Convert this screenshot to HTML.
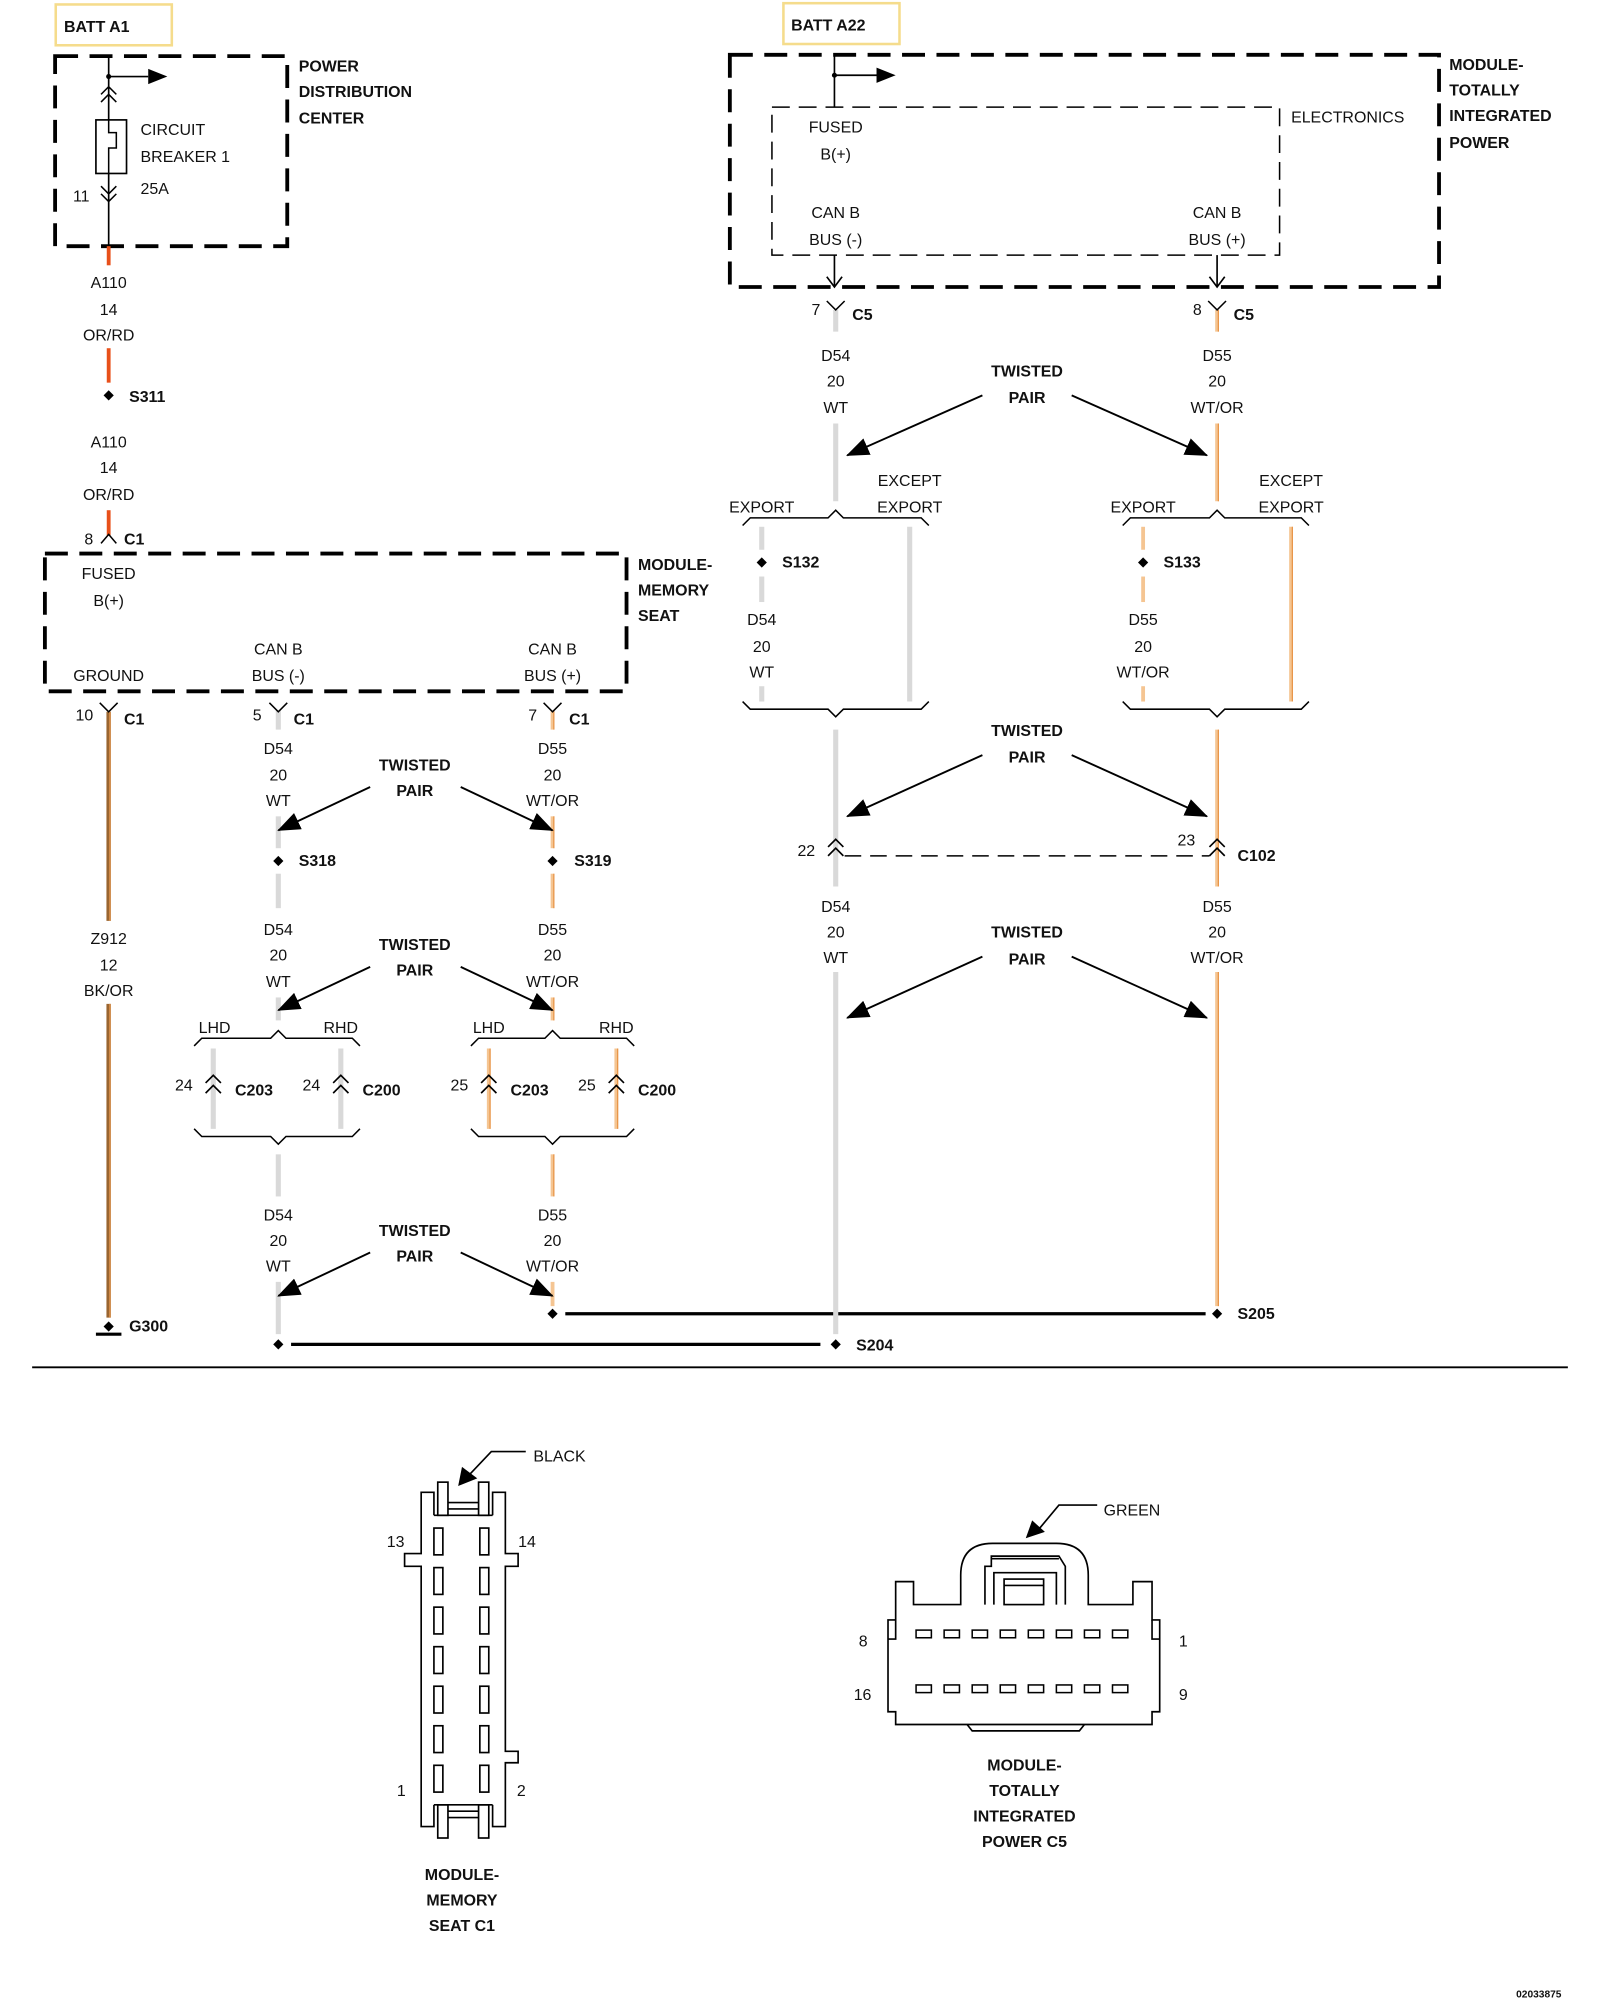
<!DOCTYPE html>
<html><head><meta charset="utf-8">
<style>
html,body{margin:0;padding:0;background:#fff;}
svg{display:block;}
text{font-family:"Liberation Sans",Arial,sans-serif;font-size:12.5px;fill:#111;}
.b{font-weight:bold;}
.c{text-anchor:middle;}
.e{text-anchor:end;}
</style></head>
<body>
<svg width="1600" height="2000" viewBox="0 0 1254 1568" xmlns="http://www.w3.org/2000/svg">
<defs>
<marker id="ah2" markerWidth="18" markerHeight="14" refX="17" refY="7" orient="auto" markerUnits="userSpaceOnUse" viewBox="0 0 18 14">
<path d="M0,0 L18,7 L0,14 z" fill="#000"/></marker>
</defs>
<rect width="1254" height="1568" fill="#fff"/>

<!-- ============ LEFT: PDC ============ -->
<rect x="43.5" y="3.5" width="91" height="32" fill="none" stroke="#f5dc8c" stroke-width="2"/>
<text x="50" y="25" class="b">BATT A1</text>
<rect x="43" y="44" width="182" height="149" fill="none" stroke="#000" stroke-width="3" stroke-dasharray="18,9"/>
<line x1="85" y1="44" x2="85" y2="193" stroke="#000" stroke-width="1.3"/>
<circle cx="85" cy="60" r="2" fill="#000"/>
<line x1="85" y1="60" x2="116" y2="60" stroke="#000" stroke-width="1.3"/>
<path d="M116,54 L131,60 L116,66 z" fill="#000"/>
<path d="M79,74 L85,68 L91,74 M79,80 L85,74 L91,80" fill="none" stroke="#000" stroke-width="1.2"/>
<rect x="75" y="94" width="24" height="42" fill="#fff" stroke="#000" stroke-width="1.3"/>
<path d="M85,94 L85,104 L91,104 L91,116 L85,116 L85,136" fill="none" stroke="#000" stroke-width="1.2"/>
<path d="M79,146 L85,152 L91,146 M79,152 L85,158 L91,152" fill="none" stroke="#000" stroke-width="1.2"/>
<text x="57" y="158">11</text>
<text x="110" y="106">CIRCUIT</text>
<text x="110" y="127">BREAKER 1</text>
<text x="110" y="152">25A</text>
<text x="234" y="56" class="b">POWER</text>
<text x="234" y="76" class="b">DISTRIBUTION</text>
<text x="234" y="97" class="b">CENTER</text>

<line x1="85" y1="193" x2="85" y2="208" stroke="#e8501a" stroke-width="3"/>
<text x="85" y="226" class="c">A110</text>
<text x="85" y="247" class="c">14</text>
<text x="85" y="267" class="c">OR/RD</text>
<line x1="85" y1="273" x2="85" y2="300" stroke="#e8501a" stroke-width="3"/>
<path d="M85,306 L89,310 L85,314 L81,310 z" fill="#000"/>
<text x="101" y="315" class="b">S311</text>
<text x="85" y="351" class="c">A110</text>
<text x="85" y="371" class="c">14</text>
<text x="85" y="392" class="c">OR/RD</text>
<line x1="85" y1="400" x2="85" y2="420" stroke="#e8501a" stroke-width="3"/>
<path d="M79,426 L85,419 L91,426" fill="none" stroke="#000" stroke-width="1.2"/>
<text x="66" y="427">8</text>
<text x="97" y="427" class="b">C1</text>

<!-- ============ MEMORY SEAT ============ -->
<rect x="35" y="434" width="456" height="108" fill="none" stroke="#000" stroke-width="3" stroke-dasharray="18,9"/>
<text x="85" y="454" class="c">FUSED</text>
<text x="85" y="475" class="c">B(+)</text>
<text x="85" y="534" class="c">GROUND</text>
<text x="218" y="513" class="c">CAN B</text>
<text x="218" y="534" class="c">BUS (-)</text>
<text x="433" y="513" class="c">CAN B</text>
<text x="433" y="534" class="c">BUS (+)</text>
<text x="500" y="447" class="b">MODULE-</text>
<text x="500" y="467" class="b">MEMORY</text>
<text x="500" y="487" class="b">SEAT</text>

<line x1="85" y1="558" x2="85" y2="722" stroke="#9a6530" stroke-width="3.5"/>
<line x1="86" y1="558" x2="86" y2="722" stroke="#e89a50" stroke-width="1"/>
<path d="M78,551 L85,558 L92,551" fill="none" stroke="#000" stroke-width="1.2"/>
<text x="59" y="565">10</text>
<text x="97" y="568" class="b">C1</text>
<text x="85" y="740" class="c">Z912</text>
<text x="85" y="761" class="c">12</text>
<text x="85" y="781" class="c">BK/OR</text>
<line x1="85" y1="787" x2="85" y2="1033" stroke="#9a6530" stroke-width="3.5"/>
<line x1="86" y1="787" x2="86" y2="1033" stroke="#e89a50" stroke-width="1"/>
<path d="M85,1036 L89,1040 L85,1044 L81,1040 z" fill="#000"/>
<line x1="75" y1="1046" x2="95" y2="1046" stroke="#000" stroke-width="2.5"/>
<text x="101" y="1044" class="b">G300</text>

<g stroke="#d9d9d9" stroke-width="4">
<line x1="218" y1="557" x2="218" y2="572"/>
<line x1="218" y1="640" x2="218" y2="665"/>
<line x1="218" y1="685" x2="218" y2="712"/>
<line x1="218" y1="782" x2="218" y2="800"/>
<line x1="167" y1="822" x2="167" y2="885"/>
<line x1="267" y1="822" x2="267" y2="885"/>
<line x1="218" y1="905" x2="218" y2="938"/>
<line x1="218" y1="1005" x2="218" y2="1046"/>
</g>
<path d="M211,551 L218,558 L225,551" fill="none" stroke="#000" stroke-width="1.2"/>
<text x="198" y="565">5</text>
<text x="230" y="568" class="b">C1</text>
<text x="218" y="591" class="c">D54</text>
<text x="218" y="612" class="c">20</text>
<text x="218" y="632" class="c">WT</text>
<path d="M218,671 L222,675 L218,679 L214,675 z" fill="#000"/>
<text x="234" y="679" class="b">S318</text>
<text x="218" y="733" class="c">D54</text>
<text x="218" y="753" class="c">20</text>
<text x="218" y="774" class="c">WT</text>
<text x="168" y="810" class="c">LHD</text>
<text x="267" y="810" class="c">RHD</text>
<path d="M152,820 L158,814 L212,814 L218,808 L224,814 L276,814 L282,820" fill="none" stroke="#000" stroke-width="1.2"/>
<path d="M161,849 L167,843 L173,849 M161,857 L167,851 L173,857" fill="none" stroke="#000" stroke-width="1.3"/>
<path d="M261,849 L267,843 L273,849 M261,857 L267,851 L273,857" fill="none" stroke="#000" stroke-width="1.3"/>
<text x="137" y="855">24</text>
<text x="184" y="859" class="b">C203</text>
<text x="237" y="855">24</text>
<text x="284" y="859" class="b">C200</text>
<path d="M152,885 L158,891 L212,891 L218,897 L224,891 L276,891 L282,885" fill="none" stroke="#000" stroke-width="1.2"/>
<text x="218" y="957" class="c">D54</text>
<text x="218" y="977" class="c">20</text>
<text x="218" y="997" class="c">WT</text>
<path d="M218,1050 L222,1054 L218,1058 L214,1054 z" fill="#000"/>
<line x1="228" y1="1054" x2="643" y2="1054" stroke="#000" stroke-width="2.5"/>

<g stroke="#f5c592" stroke-width="3">
<line x1="433" y1="557" x2="433" y2="572"/>
<line x1="433" y1="640" x2="433" y2="665"/>
<line x1="433" y1="685" x2="433" y2="712"/>
<line x1="433" y1="782" x2="433" y2="800"/>
<line x1="383" y1="822" x2="383" y2="885"/>
<line x1="483" y1="822" x2="483" y2="885"/>
<line x1="433" y1="905" x2="433" y2="938"/>
<line x1="433" y1="1005" x2="433" y2="1024"/>
</g>
<g stroke="#e8964a" stroke-width="1">
<line x1="434" y1="557" x2="434" y2="572"/>
<line x1="434" y1="640" x2="434" y2="665"/>
<line x1="434" y1="685" x2="434" y2="712"/>
<line x1="434" y1="782" x2="434" y2="800"/>
<line x1="384" y1="822" x2="384" y2="885"/>
<line x1="484" y1="822" x2="484" y2="885"/>
<line x1="434" y1="905" x2="434" y2="938"/>
</g>
<path d="M426,551 L433,558 L440,551" fill="none" stroke="#000" stroke-width="1.2"/>
<text x="414" y="565">7</text>
<text x="446" y="568" class="b">C1</text>
<text x="433" y="591" class="c">D55</text>
<text x="433" y="612" class="c">20</text>
<text x="433" y="632" class="c">WT/OR</text>
<path d="M433,671 L437,675 L433,679 L429,675 z" fill="#000"/>
<text x="450" y="679" class="b">S319</text>
<text x="433" y="733" class="c">D55</text>
<text x="433" y="753" class="c">20</text>
<text x="433" y="774" class="c">WT/OR</text>
<text x="383" y="810" class="c">LHD</text>
<text x="483" y="810" class="c">RHD</text>
<path d="M369,820 L375,814 L427,814 L433,808 L439,814 L491,814 L497,820" fill="none" stroke="#000" stroke-width="1.2"/>
<path d="M377,849 L383,843 L389,849 M377,857 L383,851 L389,857" fill="none" stroke="#000" stroke-width="1.3"/>
<path d="M477,849 L483,843 L489,849 M477,857 L483,851 L489,857" fill="none" stroke="#000" stroke-width="1.3"/>
<text x="353" y="855">25</text>
<text x="400" y="859" class="b">C203</text>
<text x="453" y="855">25</text>
<text x="500" y="859" class="b">C200</text>
<path d="M369,885 L375,891 L427,891 L433,897 L439,891 L491,891 L497,885" fill="none" stroke="#000" stroke-width="1.2"/>
<text x="433" y="957" class="c">D55</text>
<text x="433" y="977" class="c">20</text>
<text x="433" y="997" class="c">WT/OR</text>
<path d="M433,1026 L437,1030 L433,1034 L429,1030 z" fill="#000"/>
<line x1="443" y1="1030" x2="945" y2="1030" stroke="#000" stroke-width="2.5"/>

<g stroke="#000" stroke-width="1.5">
<line x1="290" y1="617" x2="218" y2="651" marker-end="url(#ah2)"/>
<line x1="361" y1="617" x2="433" y2="651" marker-end="url(#ah2)"/>
<line x1="290" y1="758" x2="218" y2="792" marker-end="url(#ah2)"/>
<line x1="361" y1="758" x2="433" y2="792" marker-end="url(#ah2)"/>
<line x1="290" y1="982" x2="218" y2="1016" marker-end="url(#ah2)"/>
<line x1="361" y1="982" x2="433" y2="1016" marker-end="url(#ah2)"/>
</g>
<text x="325" y="604" class="b c">TWISTED</text><text x="325" y="624" class="b c">PAIR</text>
<text x="325" y="745" class="b c">TWISTED</text><text x="325" y="765" class="b c">PAIR</text>
<text x="325" y="969" class="b c">TWISTED</text><text x="325" y="989" class="b c">PAIR</text>

<!-- ============ RIGHT: TIPM ============ -->
<rect x="614" y="2.5" width="91" height="32" fill="none" stroke="#f5dc8c" stroke-width="2"/>
<text x="620" y="24" class="b">BATT A22</text>
<rect x="572" y="43" width="556" height="182" fill="none" stroke="#000" stroke-width="3" stroke-dasharray="18,9"/>
<rect x="605" y="84" width="398" height="116" fill="none" stroke="#000" stroke-width="1.2" stroke-dasharray="14,7"/>
<line x1="654" y1="43" x2="654" y2="84" stroke="#000" stroke-width="1.3"/>
<circle cx="654" cy="59" r="2" fill="#000"/>
<line x1="654" y1="59" x2="688" y2="59" stroke="#000" stroke-width="1.3"/>
<path d="M687,53 L702,59 L687,65 z" fill="#000"/>
<text x="655" y="104" class="c">FUSED</text>
<text x="655" y="125" class="c">B(+)</text>
<text x="655" y="171" class="c">CAN B</text>
<text x="655" y="192" class="c">BUS (-)</text>
<text x="954" y="171" class="c">CAN B</text>
<text x="954" y="192" class="c">BUS (+)</text>
<text x="1012" y="96">ELECTRONICS</text>
<text x="1136" y="55" class="b">MODULE-</text>
<text x="1136" y="75" class="b">TOTALLY</text>
<text x="1136" y="95" class="b">INTEGRATED</text>
<text x="1136" y="116" class="b">POWER</text>
<line x1="654" y1="200" x2="654" y2="225" stroke="#000" stroke-width="1.3"/>
<path d="M648,217 L654,225 L660,217" fill="none" stroke="#000" stroke-width="1.3"/>
<line x1="954" y1="200" x2="954" y2="225" stroke="#000" stroke-width="1.3"/>
<path d="M948,217 L954,225 L960,217" fill="none" stroke="#000" stroke-width="1.3"/>

<g stroke="#d9d9d9" stroke-width="4">
<line x1="655" y1="243" x2="655" y2="260"/>
<line x1="655" y1="332" x2="655" y2="393"/>
<line x1="597" y1="413" x2="597" y2="431"/>
<line x1="597" y1="452" x2="597" y2="472"/>
<line x1="597" y1="538" x2="597" y2="550"/>
<line x1="713" y1="413" x2="713" y2="550"/>
<line x1="655" y1="572" x2="655" y2="695"/>
<line x1="655" y1="762" x2="655" y2="1046"/>
</g>
<path d="M648,236 L655,243 L662,236" fill="none" stroke="#000" stroke-width="1.2"/>
<text x="636" y="247">7</text>
<text x="668" y="251" class="b">C5</text>
<text x="655" y="283" class="c">D54</text>
<text x="655" y="303" class="c">20</text>
<text x="655" y="324" class="c">WT</text>
<path d="M582,412 L588,406 L649,406 L655,400 L661,406 L722,406 L728,412" fill="none" stroke="#000" stroke-width="1.2"/>
<text x="597" y="402" class="c">EXPORT</text>
<text x="713" y="381" class="c">EXCEPT</text>
<text x="713" y="402" class="c">EXPORT</text>
<path d="M597,437 L601,441 L597,445 L593,441 z" fill="#000"/>
<text x="613" y="445" class="b">S132</text>
<text x="597" y="490" class="c">D54</text>
<text x="597" y="511" class="c">20</text>
<text x="597" y="531" class="c">WT</text>
<path d="M582,550 L588,556 L649,556 L655,562 L661,556 L722,556 L728,550" fill="none" stroke="#000" stroke-width="1.2"/>
<path d="M649,664 L655,658 L661,664 M649,671 L655,665 L661,671" fill="none" stroke="#000" stroke-width="1.3"/>
<line x1="662" y1="671" x2="948" y2="671" stroke="#000" stroke-width="1.2" stroke-dasharray="13,7"/>
<text x="625" y="671">22</text>
<text x="655" y="715" class="c">D54</text>
<text x="655" y="735" class="c">20</text>
<text x="655" y="755" class="c">WT</text>
<path d="M655,1050 L659,1054 L655,1058 L651,1054 z" fill="#000"/>
<text x="671" y="1059" class="b">S204</text>

<g stroke="#f5c592" stroke-width="3">
<line x1="954" y1="243" x2="954" y2="260"/>
<line x1="954" y1="332" x2="954" y2="393"/>
<line x1="896" y1="413" x2="896" y2="431"/>
<line x1="896" y1="452" x2="896" y2="472"/>
<line x1="896" y1="538" x2="896" y2="550"/>
<line x1="1012" y1="413" x2="1012" y2="550"/>
<line x1="954" y1="572" x2="954" y2="695"/>
<line x1="954" y1="762" x2="954" y2="1024"/>
</g>
<g stroke="#e8964a" stroke-width="1">
<line x1="955" y1="243" x2="955" y2="260"/>
<line x1="955" y1="332" x2="955" y2="393"/>
<line x1="1013" y1="413" x2="1013" y2="550"/>
<line x1="955" y1="572" x2="955" y2="695"/>
<line x1="955" y1="762" x2="955" y2="1024"/>
</g>
<path d="M947,236 L954,243 L961,236" fill="none" stroke="#000" stroke-width="1.2"/>
<text x="935" y="247">8</text>
<text x="967" y="251" class="b">C5</text>
<text x="954" y="283" class="c">D55</text>
<text x="954" y="303" class="c">20</text>
<text x="954" y="324" class="c">WT/OR</text>
<path d="M880,412 L886,406 L948,406 L954,400 L960,406 L1020,406 L1026,412" fill="none" stroke="#000" stroke-width="1.2"/>
<text x="896" y="402" class="c">EXPORT</text>
<text x="1012" y="381" class="c">EXCEPT</text>
<text x="1012" y="402" class="c">EXPORT</text>
<path d="M896,437 L900,441 L896,445 L892,441 z" fill="#000"/>
<text x="912" y="445" class="b">S133</text>
<text x="896" y="490" class="c">D55</text>
<text x="896" y="511" class="c">20</text>
<text x="896" y="531" class="c">WT/OR</text>
<path d="M880,550 L886,556 L948,556 L954,562 L960,556 L1020,556 L1026,550" fill="none" stroke="#000" stroke-width="1.2"/>
<path d="M948,664 L954,658 L960,664 M948,671 L954,665 L960,671" fill="none" stroke="#000" stroke-width="1.3"/>
<text x="923" y="663">23</text>
<text x="970" y="675" class="b">C102</text>
<text x="954" y="715" class="c">D55</text>
<text x="954" y="735" class="c">20</text>
<text x="954" y="755" class="c">WT/OR</text>
<path d="M954,1026 L958,1030 L954,1034 L950,1030 z" fill="#000"/>
<text x="970" y="1034" class="b">S205</text>

<g stroke="#000" stroke-width="1.5">
<line x1="770" y1="310" x2="664" y2="357" marker-end="url(#ah2)"/>
<line x1="840" y1="310" x2="946" y2="357" marker-end="url(#ah2)"/>
<line x1="770" y1="592" x2="664" y2="640" marker-end="url(#ah2)"/>
<line x1="840" y1="592" x2="946" y2="640" marker-end="url(#ah2)"/>
<line x1="770" y1="750" x2="664" y2="798" marker-end="url(#ah2)"/>
<line x1="840" y1="750" x2="946" y2="798" marker-end="url(#ah2)"/>
</g>
<text x="805" y="295" class="b c">TWISTED</text><text x="805" y="316" class="b c">PAIR</text>
<text x="805" y="577" class="b c">TWISTED</text><text x="805" y="598" class="b c">PAIR</text>
<text x="805" y="735" class="b c">TWISTED</text><text x="805" y="756" class="b c">PAIR</text>

<line x1="25" y1="1072" x2="1229" y2="1072" stroke="#000" stroke-width="1.5"/>

<!-- ============ MEMORY SEAT C1 connector ============ -->
<g fill="none" stroke="#000" stroke-width="1.3">
<path d="M340,1188 L340,1170 L330,1170 L330,1218 L317,1218 L317,1228 L330,1228 L330,1432 L340,1432 L340,1415"/>
<path d="M386,1188 L386,1170 L396,1170 L396,1218 L406,1218 L406,1228 L396,1228 L396,1373 L406,1373 L406,1382 L396,1382 L396,1432 L386,1432 L386,1415"/>
<line x1="340" y1="1188" x2="386" y2="1188"/>
<line x1="340" y1="1415" x2="386" y2="1415"/>
<rect x="343" y="1162" width="8" height="26"/>
<rect x="375" y="1162" width="8" height="26"/>
<line x1="351" y1="1178" x2="375" y2="1178"/>
<line x1="351" y1="1183" x2="375" y2="1183"/>
<rect x="343" y="1415" width="8" height="26"/>
<rect x="375" y="1415" width="8" height="26"/>
<line x1="351" y1="1420" x2="375" y2="1420"/>
<line x1="351" y1="1425" x2="375" y2="1425"/>
<rect x="340" y="1198" width="7" height="21"/><rect x="376" y="1198" width="7" height="21"/>
<rect x="340" y="1229" width="7" height="21"/><rect x="376" y="1229" width="7" height="21"/>
<rect x="340" y="1260" width="7" height="21"/><rect x="376" y="1260" width="7" height="21"/>
<rect x="340" y="1291" width="7" height="21"/><rect x="376" y="1291" width="7" height="21"/>
<rect x="340" y="1322" width="7" height="21"/><rect x="376" y="1322" width="7" height="21"/>
<rect x="340" y="1353" width="7" height="21"/><rect x="376" y="1353" width="7" height="21"/>
<rect x="340" y="1384" width="7" height="21"/><rect x="376" y="1384" width="7" height="21"/>
<path d="M412,1138 L385,1138 L368,1156"/>
</g>
<path d="M359,1165 L362,1150 L374,1159 z" fill="#000"/>
<text x="418" y="1146">BLACK</text>
<text x="303" y="1213">13</text>
<text x="406" y="1213">14</text>
<text x="311" y="1408">1</text>
<text x="405" y="1408">2</text>
<text x="362" y="1474" class="b c">MODULE-</text>
<text x="362" y="1494" class="b c">MEMORY</text>
<text x="362" y="1514" class="b c">SEAT C1</text>

<!-- ============ TIPM C5 connector ============ -->
<g fill="none" stroke="#000" stroke-width="1.3">
<path d="M702,1270 L702,1240 L716,1240 L716,1258 L753,1258 L753,1235 Q753,1210 778,1210 L828,1210 Q853,1210 853,1235 L853,1258 L888,1258 L888,1240 L903,1240 L903,1270 L909,1270 L909,1342 L903,1342 L903,1352 L702,1352 L702,1342 L696,1342 L696,1270 Z"/>
<path d="M702,1270 L702,1285 L696,1285 M903,1270 L903,1285 L909,1285"/>
<path d="M758,1352 L762,1357 L846,1357 L850,1352"/>
<path d="M772,1258 L772,1228 L777,1228 L777,1220 L830,1220 L835,1228 L835,1258"/>
<path d="M779,1258 L779,1233 L828,1233 L828,1258"/>
<rect x="787" y="1238" width="31" height="20"/>
<line x1="787" y1="1243" x2="818" y2="1243"/>
<line x1="777" y1="1222" x2="830" y2="1222"/>
<path d="M860,1180 L830,1180 L815,1198"/>
</g>
<path d="M804,1206 L809,1192 L819,1201 z" fill="#000"/>
<g fill="#fff" stroke="#000" stroke-width="1.2">
<rect x="718" y="1278" width="12" height="6"/><rect x="740" y="1278" width="12" height="6"/><rect x="762" y="1278" width="12" height="6"/><rect x="784" y="1278" width="12" height="6"/><rect x="806" y="1278" width="12" height="6"/><rect x="828" y="1278" width="12" height="6"/><rect x="850" y="1278" width="12" height="6"/><rect x="872" y="1278" width="12" height="6"/>
<rect x="718" y="1321" width="12" height="6"/><rect x="740" y="1321" width="12" height="6"/><rect x="762" y="1321" width="12" height="6"/><rect x="784" y="1321" width="12" height="6"/><rect x="806" y="1321" width="12" height="6"/><rect x="828" y="1321" width="12" height="6"/><rect x="850" y="1321" width="12" height="6"/><rect x="872" y="1321" width="12" height="6"/>
</g>
<text x="865" y="1188">GREEN</text>
<text x="680" y="1291" class="e">8</text>
<text x="683" y="1333" class="e">16</text>
<text x="924" y="1291">1</text>
<text x="924" y="1333">9</text>
<text x="803" y="1388" class="b c">MODULE-</text>
<text x="803" y="1408" class="b c">TOTALLY</text>
<text x="803" y="1428" class="b c">INTEGRATED</text>
<text x="803" y="1448" class="b c">POWER C5</text>

<text x="1224" y="1566" class="b e" style="font-size:8px">02033875</text>
</svg>
</body></html>
